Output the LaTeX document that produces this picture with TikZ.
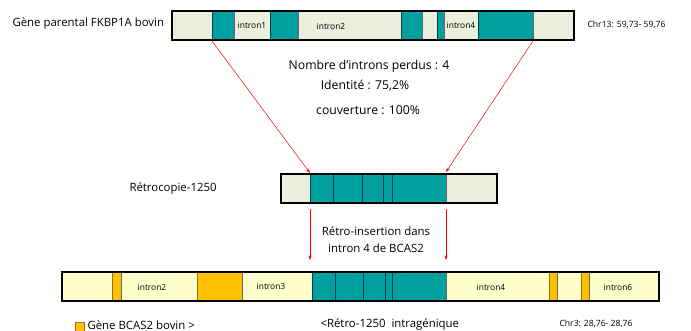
\documentclass[tikz,border=0pt]{standalone}
\usepackage{fontspec}
\setmainfont{Open Sans}
\usetikzlibrary{arrows.meta}
\definecolor{exoncol}{RGB}{0,160,160}
\definecolor{parentcol}{RGB}{235,239,222}
\definecolor{hostcol}{RGB}{255,255,204}
\definecolor{bcascol}{RGB}{255,192,0}
\tikzset{
  exo/.style={fill=exoncol,draw=black!60!exoncol,line width=.6pt},
  par/.style={fill=parentcol,draw=black!60,line width=.6pt},
  hos/.style={fill=hostcol,draw=black!60,line width=.6pt},
  bca/.style={fill=bcascol,draw=black!40!bcascol,line width=.6pt},
  frame/.style={draw=black,line width=1.1pt},
  lbl/.style={font=\fontsize{8.4}{9}\selectfont},
  txt/.style={font=\fontsize{11.4}{13}\selectfont},
  stat/.style={font=\fontsize{12.2}{14}\selectfont},
  small/.style={font=\fontsize{8.6}{10}\selectfont},
  ins/.style={red,line width=.5pt,-{Stealth[length=4.5pt,width=3.2pt]}}
}
\begin{document}
\begin{tikzpicture}[x=1pt,y=-1pt]
\useasboundingbox (0,0) rectangle (691,331);
% parental gene
\draw[par] (172,11) rectangle (212,40);
\draw[exo] (212,11) rectangle (234,40);
\draw[par] (234,11) rectangle (270,40);
\draw[exo] (270,11) rectangle (298,40);
\draw[par] (298,11) rectangle (401,40);
\draw[exo] (401,11) rectangle (422,40);
\draw[par] (422,11) rectangle (437,40);
\draw[exo] (437,11) rectangle (444,40);
\draw[par] (444,11) rectangle (478,40);
\draw[exo] (478,11) rectangle (533,40);
\draw[par] (533,11) rectangle (574,40);
\draw[frame] (172,11) rectangle (574,40);
\node[lbl] (pin1) at (252,25) {intron1};
\node[lbl] (pin2) at (331,26) {intron2};
\node[lbl] (pin4) at (461,25) {intron4};
\node[txt,anchor=west] (parental) at (9,24) {Gène parental FKBP1A bovin};
\node[small,anchor=west] (chrtop) at (584,25) {Chr13: 59,73- 59,76};
% stats
\node[stat] (perdus) at (369,66) {Nombre d’introns perdus : 4};
\node[stat] (ident) at (365,86) {Identité : 75,2\%};
\node[stat] (couv) at (368,110) {couverture : 100\%};
% retrocopy
\draw[par] (281,174) rectangle (310,203);
\draw[exo] (310,174) rectangle (333,203);
\draw[exo] (333,174) rectangle (362,203);
\draw[exo] (362,174) rectangle (383,203);
\draw[exo] (383,174) rectangle (392,203);
\draw[exo] (392,174) rectangle (446,203);
\draw[par] (446,174) rectangle (497,203);
\draw[frame] (281,174) rectangle (497,203);
\node[txt,anchor=west] (retro) at (126,189) {Rétrocopie-1250};
\coordinate (pa) at (212,41);
\coordinate (pb) at (533,41);
\coordinate (ra) at (310,173);
\coordinate (rb) at (446,172);
\draw[ins] (pa) -- (ra);
\draw[ins] (pb) -- (rb);
% insertion
\node[txt] (insa) at (376,231) {Rétro-insertion dans};
\node[txt] (insb) at (376,248) {intron 4 de BCAS2};
\coordinate (ua) at (310,209);
\coordinate (ub) at (446,209);
\coordinate (ha) at (310,260);
\coordinate (hb) at (446,260);
\draw[ins] (ua) -- (ha);
\draw[ins] (ub) -- (hb);
% host gene
\draw[hos] (62,272) rectangle (112,301);
\draw[bca] (112,272) rectangle (121,301);
\draw[hos] (121,272) rectangle (197,301);
\draw[bca] (197,272) rectangle (242,301);
\draw[hos] (242,272) rectangle (312,301);
\draw[exo] (312,272) rectangle (335,301);
\draw[exo] (335,272) rectangle (363,301);
\draw[exo] (363,272) rectangle (385,301);
\draw[exo] (385,272) rectangle (392,301);
\draw[exo] (392,272) rectangle (446,301);
\draw[hos] (446,272) rectangle (549,301);
\draw[bca] (549,272) rectangle (557,301);
\draw[hos] (557,272) rectangle (581,301);
\draw[bca] (581,272) rectangle (589,301);
\draw[hos] (589,272) rectangle (659,301);
\draw[frame] (62,272) rectangle (659,301);
\node[lbl] (hin2) at (152,287) {intron2};
\node[lbl] (hin3) at (271,286) {intron3};
\node[lbl] (hin4) at (491,287) {intron4};
\node[lbl] (hin6) at (618,287) {intron6};
% legend
\draw[bca] (75,322) rectangle (84,332);
\node[txt,anchor=west] (bcasleg) at (84,325) {Gène BCAS2 bovin >};
\node[txt,anchor=west] (retroleg) at (317,325) {<Rétro-1250~ intragénique};
\node[small,anchor=west] (chrbot) at (556,324) {Chr3: 28,76- 28,76};
\end{tikzpicture}
\end{document}
